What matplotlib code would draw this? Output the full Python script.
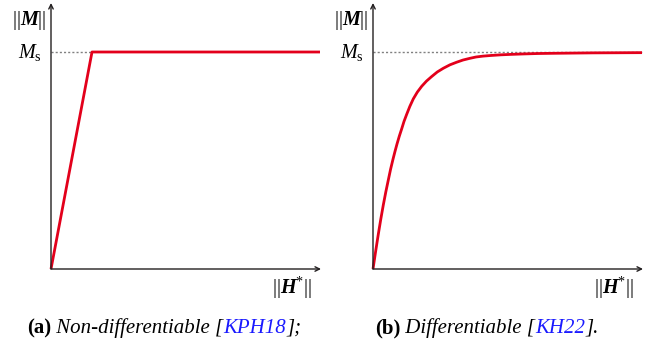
import numpy as np
import matplotlib.pyplot as plt

plt.rcParams['mathtext.fontset'] = 'custom'
plt.rcParams['mathtext.rm'] = 'Liberation Serif'
plt.rcParams['mathtext.it'] = 'Liberation Serif:italic'
plt.rcParams['mathtext.bf'] = 'Liberation Serif:italic:bold'
plt.rcParams['font.family'] = 'Liberation Serif'

# (a) piecewise linear saturation
h_a = [0, 41, 269]
m_a = [0, 1, 1]

# (b) smooth saturation
h_b = [0, 2.6, 5.3, 7.8, 10.3, 12.8, 15.3, 17.6, 20, 22, 24, 26.3, 28.7, 31,
       33.7, 36.8, 40.3, 44.3, 48.7, 53.5, 58.7, 64.3, 70.3, 77, 83.7, 90, 97,
       103, 110, 118, 128, 138, 150, 165, 180, 200, 220, 245, 269]
m_b = [0, 0.08, 0.16, 0.23, 0.295, 0.355, 0.41, 0.46, 0.506, 0.542, 0.576,
       0.612, 0.646, 0.68, 0.713, 0.749, 0.784, 0.815, 0.842, 0.866, 0.887,
       0.908, 0.925, 0.941, 0.953, 0.963, 0.971, 0.977, 0.981, 0.984, 0.987,
       0.989, 0.991, 0.993, 0.994, 0.995, 0.996, 0.9965, 0.997]

Ms = 1.0
red = '#e3001b'
axcol = '#231f20'
fs = 15

W, H = 660, 351
fig = plt.figure(figsize=(W / 100, H / 100), dpi=100)


def make_panel(x0, x1, h, m, ms_end):
    # axes placed in pixel coordinates: origin at (x0, 269), top at y=3
    ax = fig.add_axes([x0 / W, (H - 269) / H, (x1 - x0) / W, 266 / H])
    ax.set_xlim(0, x1 - x0)
    ax.set_ylim(0, 266 / 217)
    ax.axis('off')
    ax.annotate('', xy=(x1 - x0, 0), xytext=(0, 0),
                arrowprops=dict(arrowstyle='->', color=axcol, lw=1.0,
                                shrinkA=0, shrinkB=0, mutation_scale=8))
    ax.annotate('', xy=(0, 266 / 217), xytext=(0, 0),
                arrowprops=dict(arrowstyle='->', color=axcol, lw=1.0,
                                shrinkA=0, shrinkB=0, mutation_scale=8))
    ax.plot([0, ms_end], [Ms, Ms], color='#808080', lw=1.0,
            linestyle=(0, (1.5, 1.5)))
    ax.plot(h, m, color=red, lw=2.0, solid_capstyle='butt', clip_on=False)
    return ax


ax1 = make_panel(51, 321, h_a, m_a, 41)
ax2 = make_panel(373, 643, h_b, m_b, 269)

for x0, x1 in [(51, 321), (373, 643)]:
    fig.text((x0 - 5) / W, 1 - 25 / H, r'$||\mathbf{M}||$', fontsize=14.5,
             ha='right', va='baseline')
    fig.text((x0 - 9) / W, 1 - 58 / H, r'$M_\mathrm{s}$', fontsize=14.5,
             ha='right', va='baseline')
    fig.text((x1 - 9) / W, 1 - 294 / H, r'$||\mathbf{H}^{*}||$', fontsize=14.5,
             ha='right', va='baseline')


def chain(x, pieces):
    prev = None
    for s, c, kw in pieces:
        if prev is None:
            prev = fig.text(x / W, 1 - 333 / H, s, color=c, fontsize=fs,
                            ha='left', va='baseline', **kw)
        else:
            prev = plt.annotate(s, xy=(1, 0), xycoords=prev, color=c,
                                fontsize=fs, ha='left', va='bottom',
                                annotation_clip=False, **kw)
    return prev


ann = fig.add_axes([0, 0, 1, 1])
ann.axis('off')
plt.sca(ann)
chain(27, [('(a)', 'black', dict(fontweight='bold')),
           (' Non-differentiable [', 'black', dict(style='italic')),
           ('KPH18', '#1a1aff', dict(style='italic')),
           ('];', 'black', dict(style='italic'))])
chain(375, [('(b)', 'black', dict(fontweight='bold')),
            (' Differentiable [', 'black', dict(style='italic')),
            ('KH22', '#1a1aff', dict(style='italic')),
            ('].', 'black', dict(style='italic'))])

fig.savefig('out.png', dpi=100)
